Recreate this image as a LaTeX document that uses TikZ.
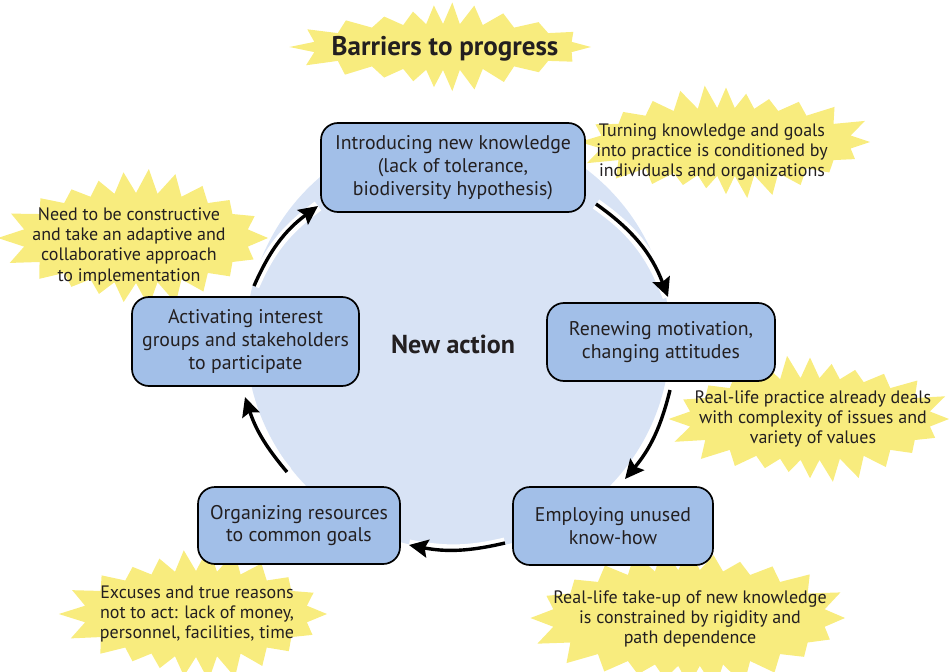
\documentclass[tikz,border=0pt]{standalone}
\usepackage{fontspec}
\setmainfont{PT Sans}
\usetikzlibrary{arrows.meta}
\definecolor{circfill}{HTML}{D8E3F5}
\definecolor{boxfill}{HTML}{A2BFE8}
\definecolor{burstfill}{HTML}{F8EC7E}
\definecolor{txt}{HTML}{231F20}
% cx cy ax ay depth N
\newcommand\burstshape[6]{%
  \pgfmathsetmacro\bK{(#3-#4)/(#3+#4)}%
  \pgfmathsetmacro\bstep{180/#6}%
  \pgfmathtruncatemacro\lastk{2*#6-1}%
  \fill[burstfill] ({#1+#3},{#2}) \foreach \k in {1,...,\lastk} {
    -- ({#1+(#3-mod(\k,2)*#5+(1-mod(\k,2))*0.35*#5*sin(\k*151))*cos(\k*\bstep+\bK*28.648*sin(\k*2*\bstep))},
        {#2+(#4-mod(\k,2)*#5+(1-mod(\k,2))*0.35*#5*sin(\k*151))*sin(\k*\bstep+\bK*28.648*sin(\k*2*\bstep))})
  } -- cycle;}
\tikzset{
  stage/.style={draw=black, line width=1.7pt, fill=boxfill, rounded corners=17pt,
    align=center, font=\fontsize{19.8}{22.8}\selectfont, text=txt, inner sep=0pt},
  bursttext/.style={align=center, font=\fontsize{18}{20.3}\selectfont, text=txt, inner sep=0pt},
  cyc/.style={line width=3.4pt, -{Stealth[length=19pt,width=18pt,inset=3pt]}},
  halo/.style={white, line width=11pt}
}
\begin{document}
\begin{tikzpicture}[x=1pt,y=-1pt]
\useasboundingbox (0,0) rectangle (949,671);
\clip (0,0) rectangle (949,671);
% big circle
\fill[circfill] (458,338) circle[radius=212];
% bursts
\burstshape{443}{47}{148}{39}{16}{22}
\burstshape{726}{142}{144}{51}{17}{24}
\burstshape{136}{238}{132}{63}{18}{22}
\burstshape{810}{419}{139}{58}{17}{24}
\burstshape{689}{618}{156}{66}{18}{24}
\burstshape{196}{614}{131}{61}{18}{22}
% arc end points
\coordinate (a1s) at (596,204); \coordinate (a1e) at (668,297);
\coordinate (a2s) at (670,390); \coordinate (a2e) at (625,479);
\coordinate (a3s) at (505,543); \coordinate (a3e) at (409,545);
\coordinate (a4s) at (287,472); \coordinate (a4e) at (245,397);
\coordinate (a5s) at (254,286); \coordinate (a5e) at (318,206);
\foreach \s/\e/\b in {a1s/a1e/17, a2s/a2e/13, a3s/a3e/12, a4s/a4e/11, a5s/a5e/15} {
  \draw[halo] (\s) to[bend left=\b] (\e);
}
\foreach \s/\e/\b in {a1s/a1e/17, a2s/a2e/13, a3s/a3e/12, a4s/a4e/11, a5s/a5e/15} {
  \draw[cyc] (\s) to[bend left=\b] (\e);
}
% stages
\node[stage, minimum width=264pt, minimum height=89pt] (know) at (453,167.5)
  {Introducing new knowledge\\(lack of tolerance,\\biodiversity hypothesis)};
\node[stage, minimum width=228pt, minimum height=78pt] (motiv) at (661,342)
  {Renewing motivation,\\changing attitudes};
\node[stage, minimum width=200pt, minimum height=78pt] (employ) at (613,526)
  {Employing unused\\know-how};
\node[stage, minimum width=202pt, minimum height=77pt] (organ) at (299,525.5)
  {Organizing resources\\to common goals};
\node[stage, minimum width=227pt, minimum height=89pt] (activ) at (245.5,341.5)
  {Activating interest\\groups and stakeholders\\to participate};
\node[font=\bfseries\fontsize{26}{30}\selectfont, text=txt] (new) at (453,344) {New action};
% burst texts
\node[font=\bfseries\fontsize{27}{31}\selectfont, text=txt] (title) at (445,49) {Barriers to progress};
\node[bursttext] (b1) at (712,152) {Turning knowledge and goals\\into practice is conditioned by\\individuals and organizations};
\node[bursttext] (b2) at (129,246) {Need to be constructive\\and take an adaptive and\\collaborative approach\\to implementation};
\node[bursttext] (b3) at (813,419) {Real-life practice already deals\\with complexity of issues and\\variety of values};
\node[bursttext] (b4) at (690,619) {Real-life take-up of new knowledge\\is constrained by rigidity and\\path dependence};
\node[bursttext] (b5) at (197,614) {Excuses and true reasons\\not to act: lack of money,\\personnel, facilities, time};
\end{tikzpicture}
\end{document}
